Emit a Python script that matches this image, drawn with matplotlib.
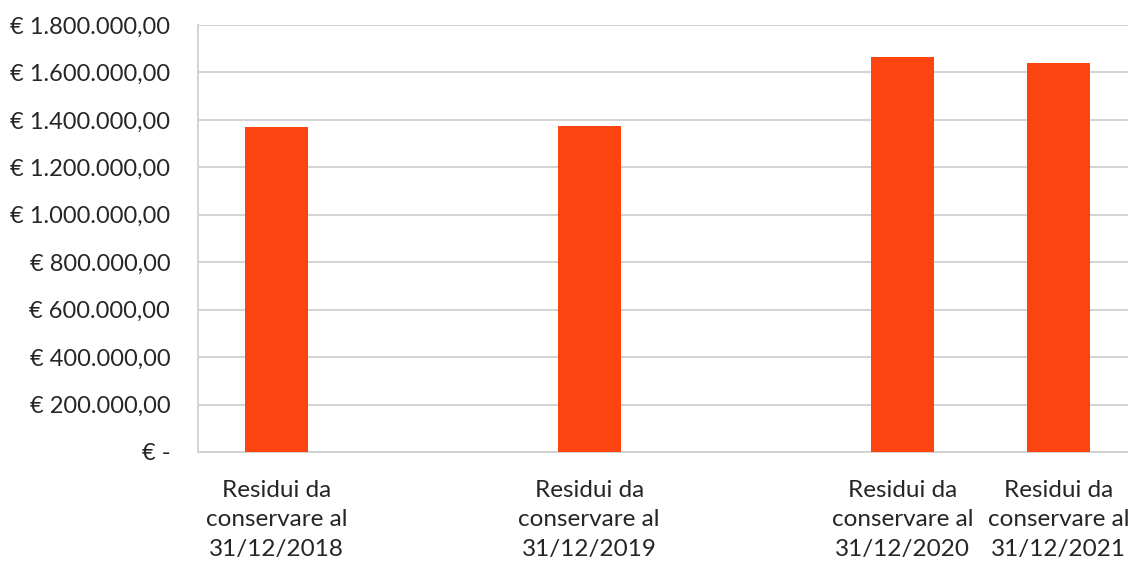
import matplotlib
matplotlib.use("Agg")
import matplotlib.pyplot as plt
from matplotlib.ticker import FuncFormatter, MultipleLocator
import numpy as np

# categories (two empty slots in the original sheet)
categories = [
    'Residui da\nconservare al\n31/12/2018',
    '',
    'Residui da\nconservare al\n31/12/2019',
    '',
    'Residui da\nconservare al\n31/12/2020',
    'Residui da\nconservare al\n31/12/2021',
]
values = [1372000, np.nan, 1373000, np.nan, 1664000, 1639000]

bar_color = '#FC4410'
text_color = '#262626'
grid_color = '#D0D0D0'

plt.rcParams['font.family'] = ['Lato', 'DejaVu Sans']


def euro_fmt(v, pos):
    if abs(v) < 1e-6:
        return '€ -'
    s = f"{v:,.2f}".replace(',', 'X').replace('.', ',').replace('X', '.')
    return f"€ {s}"


fig = plt.figure(figsize=(11.28, 5.63), dpi=100)
ax = fig.add_axes([198 / 1128, 1 - 452 / 563, 939 / 1128, 427 / 563])

x = np.arange(len(categories))
ax.bar(x, values, width=0.4, color=bar_color, zorder=3)

ax.set_xlim(-0.5, len(categories) - 0.5)
ax.set_ylim(0, 1800000)
ax.yaxis.set_major_locator(MultipleLocator(200000))
ax.yaxis.set_major_formatter(FuncFormatter(euro_fmt))

ax.set_xticks(x)
ax.set_xticklabels(categories, linespacing=1.5)

ax.grid(axis='y', color=grid_color, linewidth=1.3, zorder=0)
for side in ['top', 'right']:
    ax.spines[side].set_visible(False)
for side in ['left', 'bottom']:
    ax.spines[side].set_color(grid_color)
    ax.spines[side].set_linewidth(1.3)

ax.tick_params(axis='y', length=0, pad=20, labelsize=17, labelcolor=text_color)
ax.tick_params(axis='x', length=0, pad=20, labelsize=17.5, labelcolor=text_color)

fig.savefig('out.png', dpi=100)
